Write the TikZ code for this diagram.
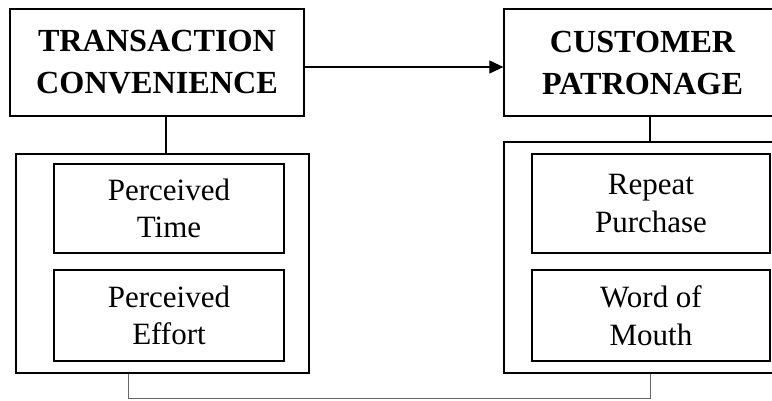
\documentclass[tikz,border=0pt]{standalone}
\usepackage{fontspec}
\setmainfont{Liberation Serif}
\usetikzlibrary{arrows.meta,calc}
\begin{document}
\begin{tikzpicture}[x=1pt,y=1pt,
  topbox/.style={draw, line width=1.3pt, rectangle, align=center, inner sep=0pt,
    font=\fontsize{32.2}{42}\selectfont\bfseries},
  outerbox/.style={draw, line width=1.1pt, rectangle, inner sep=0pt},
  innerbox/.style={draw, line width=1.5pt, rectangle, align=center, inner sep=0pt,
    font=\fontsize{31}{37.5}\selectfont},
  conn/.style={line width=1.1pt}]
\useasboundingbox (0,0) rectangle (772,400);
\node[topbox, minimum width=294pt, minimum height=107pt] (TC) at (157,337.5) {TRANSACTION\\CONVENIENCE};
\node[topbox, minimum width=277pt, minimum height=107pt] (CP) at (642.5,337.5) {CUSTOMER\\PATRONAGE};
\node[outerbox, minimum width=293pt, minimum height=219pt] (LO) at (162.5,136.5) {};
\node[outerbox, minimum width=281pt, minimum height=231pt] (RO) at (644.5,142.5) {};
\node[innerbox, minimum width=230pt, minimum height=89pt] (PT) at (169,191.5) {Perceived\\Time};
\node[innerbox, minimum width=230pt, minimum height=91pt] (PE) at (169,84.5) {Perceived\\Effort};
\node[innerbox, minimum width=238pt, minimum height=99pt] (RP) at (651,196.5) {Repeat\\Purchase};
\node[innerbox, minimum width=238pt, minimum height=91pt] (WM) at (651,84.5) {Word of\\Mouth};
\draw[conn, -{Triangle[length=14pt,width=13pt]}] (TC.east|-0,333) -- (CP.west|-0,333);
\draw[conn] (166,0|-TC.south) -- (166,0|-LO.north);
\draw[conn] (650,0|-CP.south) -- (650,0|-RO.north);
\coordinate (b1) at (128,1.5);
\coordinate (b2) at (650,1.5);
\draw[conn, line width=1pt, black!60] (128,0|-LO.south) -- (b1) -- (b2) -- (650,0|-RO.south);
\end{tikzpicture}
\end{document}
